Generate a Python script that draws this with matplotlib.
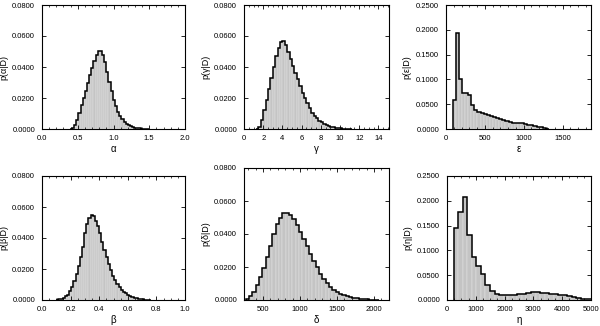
import numpy as np
import matplotlib
matplotlib.use("Agg")
import matplotlib.pyplot as plt
from matplotlib.ticker import MultipleLocator, FormatStrFormatter

plt.rcParams['font.family'] = ['Liberation Sans', 'DejaVu Sans']

# ---------------- data (bin start, bin width, bin heights) ----------------
alpha_start, alpha_width = 0.39, 0.03
alpha_vals = [0.0002, 0.0008, 0.0025, 0.0060, 0.0105, 0.0155, 0.0200, 0.0245,
              0.0300, 0.0350, 0.0395, 0.0440, 0.0478, 0.0503, 0.0505, 0.0480,
              0.0430, 0.0370, 0.0305, 0.0245, 0.0190, 0.0148, 0.0112, 0.0085,
              0.0062, 0.0046, 0.0034, 0.0025, 0.0018, 0.0013, 0.0009, 0.0006,
              0.0004, 0.0003, 0.0002, 0.0001, 0.0001]

gamma_start, gamma_width = 1.25, 0.25
gamma_vals = [0.0003, 0.0015, 0.0060, 0.0120, 0.0190, 0.0260, 0.0330, 0.0400,
              0.0470, 0.0520, 0.0560, 0.0565, 0.0540, 0.0500, 0.0450, 0.0405,
              0.0360, 0.0320, 0.0275, 0.0235, 0.0200, 0.0165, 0.0133, 0.0105,
              0.0085, 0.0068, 0.0054, 0.0042, 0.0033, 0.0026, 0.0020, 0.0015,
              0.0011, 0.0008, 0.0006, 0.0004, 0.0003, 0.0002, 0.0001, 0.0001]

eps_start, eps_width = 85, 40
eps_vals = [0.058, 0.193, 0.101, 0.073, 0.072, 0.068, 0.048, 0.038, 0.034,
            0.032, 0.031, 0.029, 0.027, 0.024, 0.022, 0.021, 0.019, 0.017,
            0.015, 0.013, 0.012, 0.012, 0.012, 0.011, 0.009, 0.008, 0.007,
            0.005, 0.004, 0.003, 0.001]

beta_start, beta_width = 0.10, 0.015
beta_vals = [0.0002, 0.0004, 0.0008, 0.0014, 0.0023, 0.0035, 0.0055, 0.0082,
             0.0120, 0.0165, 0.0220, 0.0280, 0.0345, 0.0430, 0.0490, 0.0530,
             0.0548, 0.0540, 0.0510, 0.0475, 0.0430, 0.0375, 0.0325, 0.0275,
             0.0230, 0.0192, 0.0158, 0.0130, 0.0105, 0.0084, 0.0067, 0.0053,
             0.0042, 0.0033, 0.0026, 0.0020, 0.0015, 0.0011, 0.0008, 0.0006,
             0.0004, 0.0003, 0.0002, 0.0001]

delta_start, delta_width = 265, 45
delta_vals = [0.0008, 0.0022, 0.0050, 0.0090, 0.0140, 0.0192, 0.0260, 0.0330,
              0.0400, 0.0460, 0.0500, 0.0525, 0.0530, 0.0515, 0.0490, 0.0455,
              0.0415, 0.0372, 0.0325, 0.0280, 0.0238, 0.0198, 0.0160, 0.0130,
              0.0102, 0.0080, 0.0062, 0.0048, 0.0037, 0.0029, 0.0022, 0.0017,
              0.0013, 0.0010, 0.0008, 0.0006, 0.0004, 0.0003, 0.0002, 0.0001]

eta_start, eta_width = 230, 158
eta_vals = [0.145, 0.177, 0.207, 0.131, 0.086, 0.069, 0.052, 0.031, 0.019,
            0.013, 0.011, 0.010, 0.010, 0.011, 0.012, 0.012, 0.014, 0.016,
            0.017, 0.015, 0.014, 0.013, 0.012, 0.011, 0.010, 0.008, 0.006,
            0.004, 0.003, 0.003, 0.002]

panels = [
    # (start, width, vals, xlabel, ylabel, xlim, ymax, xmajor, xminor, ymajor)
    (alpha_start, alpha_width, alpha_vals, 'α', 'p(α|D)', (0, 2.0), 0.08, 0.5, 0.1, 0.02),
    (gamma_start, gamma_width, gamma_vals, 'γ', 'p(γ|D)', (0, 15.1), 0.08, 2, 0.5, 0.02),
    (eps_start, eps_width, eps_vals, 'ε', 'p(ε|D)', (0, 1866), 0.25, 500, 100, 0.05),
    (beta_start, beta_width, beta_vals, 'β', 'p(β|D)', (0, 1.0), 0.08, 0.2, 0.05, 0.02),
    (delta_start, delta_width, delta_vals, 'δ', 'p(δ|D)', (243, 2203), 0.08, 500, 100, 0.02),
    (eta_start, eta_width, eta_vals, 'η', 'p(η|D)', (0, 5000), 0.25, 1000, 250, 0.05),
]

W, H = 600, 326
boxes = [  # pixel boxes: x0, x1, ytop, ybottom
    (42, 185, 5, 129), (244, 389, 5, 129), (446, 591, 5, 129),
    (42, 185, 176, 300), (244, 389, 168, 300), (447, 591, 176, 300),
]

fig = plt.figure(figsize=(6.0, 3.26), dpi=100)
for (start, width, vals, xl, yl, xlim, ymax, xmaj, xmin_, ymaj), (x0, x1, yt, yb) in zip(panels, boxes):
    ax = fig.add_axes([x0 / W, (H - yb) / H, (x1 - x0) / W, (yb - yt) / H])
    vals = np.asarray(vals)
    edges = start + width * np.arange(len(vals) + 1)
    ax.bar(edges[:-1], vals, width=width, align='edge', color='#c4c4c4',
           edgecolor='#e4e4e4', linewidth=0.35, zorder=1)
    ax.stairs(vals, edges, baseline=0, color='black', linewidth=1.1, zorder=2)
    ax.set_xlim(*xlim)
    ax.set_ylim(0, ymax)
    ax.xaxis.set_major_locator(MultipleLocator(xmaj))
    ax.xaxis.set_minor_locator(MultipleLocator(xmin_))
    ax.yaxis.set_major_locator(MultipleLocator(ymaj))
    ax.yaxis.set_major_formatter(FormatStrFormatter('%.4f'))
    if xmaj < 1:
        ax.xaxis.set_major_formatter(FormatStrFormatter('%.1f'))
    ax.tick_params(which='both', direction='in', top=True, right=True,
                   labelsize=5.5, colors='black')
    ax.tick_params(axis='x', pad=4)
    ax.tick_params(axis='y', pad=5)
    ax.tick_params(which='major', length=3, width=0.6)
    ax.tick_params(which='minor', length=1.6, width=0.5)
    for s in ax.spines.values():
        s.set_linewidth(0.8)
    ax.set_xlabel(xl, fontsize=7, labelpad=2)
    ax.set_ylabel(yl, fontsize=6.5, labelpad=3)

fig.savefig('out.png', dpi=100)
